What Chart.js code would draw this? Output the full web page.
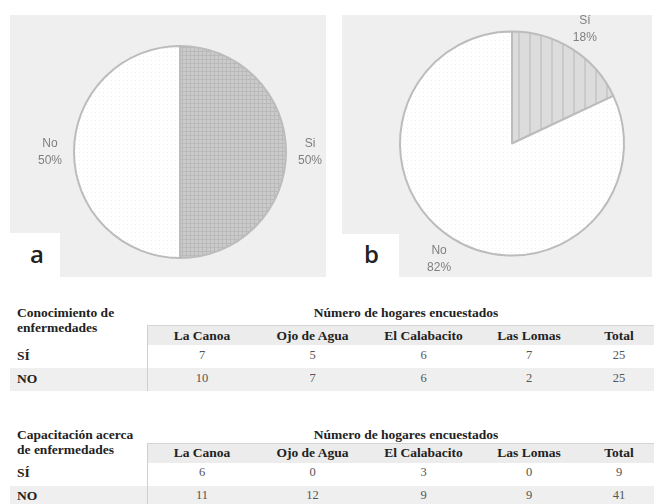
<!DOCTYPE html>
<html>
<head>
<meta charset="utf-8">
<script src="https://cdn.jsdelivr.net/npm/chart.js@4.4.0/dist/chart.umd.min.js"></script>
<style>
  body { margin: 0; width: 654px; height: 504px; overflow: hidden; background: #fff; position: relative; -webkit-font-smoothing: antialiased; }
  .panel { position: absolute; background: #efefef; }
  .tag { position: absolute; background: #fff; font-family: "Open Sans", sans-serif; font-size: 24px; font-weight: 600; color: #222; }
  .t { position: absolute; font-family: "Liberation Serif", serif; white-space: nowrap; line-height: 15px; }
  .b { font-weight: bold; font-size: 13.5px; color: #222; }
  .v { font-size: 12.5px; color: #555; }
  .band { position: absolute; }
</style>
</head>
<body>
<div class="panel" style="left:10px;top:15px;width:316px;height:262px"><canvas id="pieA"></canvas></div>
<div class="panel" style="left:342px;top:15px;width:310px;height:262px"><canvas id="pieB"></canvas></div>
<div class="tag" style="left:10px;top:233px;width:50px;height:44px"><span style="position:absolute;left:20px;top:4px">a</span></div>
<div class="tag" style="left:342px;top:234px;width:57px;height:43px"><span style="position:absolute;left:22px;top:3px">b</span></div>
<div id="tables"></div>
<script>
// pie data
const labelsA = ['Si', 'No'];
const valuesA = [50, 50];
const labelsB = ['Sí', 'No'];
const valuesB = [18, 82];

// table data
const columns = ['La Canoa', 'Ojo de Agua', 'El Calabacito', 'Las Lomas', 'Total'];
const rowNames = ['SÍ', 'NO'];
const conocSi = [7, 5, 6, 7, 25];
const conocNo = [10, 7, 6, 2, 25];
const capSi = [6, 0, 3, 0, 9];
const capNo = [11, 12, 9, 9, 41];

function makePattern(size, draw) {
    const c = document.createElement('canvas');
    c.width = size; c.height = size;
    draw(c.getContext('2d'));
    return document.createElement('canvas').getContext('2d').createPattern(c, 'repeat');
}

const gridFill = makePattern(4, g => {
    g.fillStyle = '#cbcbcb'; g.fillRect(0, 0, 4, 4);
    g.fillStyle = '#b9b9b9'; g.fillRect(0, 0, 4, 1); g.fillRect(0, 0, 1, 4);
});
const dotFill = makePattern(4, g => {
    g.fillStyle = '#ffffff'; g.fillRect(0, 0, 4, 4);
    g.fillStyle = '#eeeeee'; g.fillRect(1, 1, 1, 1);
});
const stripeFill = makePattern(11, g => {
    g.fillStyle = '#dcdcdc'; g.fillRect(0, 0, 11, 11);
    g.fillStyle = '#cacaca'; g.fillRect(0, 0, 2, 11);
});

// draws "Sí / 18%" style labels just outside each slice
const outsideLabels = {
    id: 'outsideLabels',
    afterDatasetsDraw(chart) {
        const ctx = chart.ctx;
        const meta = chart.getDatasetMeta(0);
        const data = chart.data.datasets[0].data;
        const total = data.reduce((a, b) => a + b, 0);
        ctx.save();
        ctx.font = '12px "Liberation Sans", sans-serif';
        ctx.fillStyle = '#7f7f7f';
        ctx.textAlign = 'center';
        ctx.textBaseline = 'middle';
        meta.data.forEach((arc, i) => {
            const p = arc.getProps(['x', 'y', 'startAngle', 'endAngle', 'outerRadius'], true);
            const mid = (p.startAngle + p.endAngle) / 2;
            const d = p.outerRadius + 24;
            const x = p.x + Math.cos(mid) * d;
            const y = p.y + Math.sin(mid) * d;
            ctx.fillText(chart.data.labels[i], x, y - 8);
            ctx.fillText(Math.round(data[i] / total * 100) + '%', x, y + 9);
        });
        ctx.restore();
    }
};

function makePie(id, labels, values, fills, padding) {
    return new Chart(document.getElementById(id), {
        type: 'pie',
        data: {
            labels: labels,
            datasets: [{
                data: values,
                backgroundColor: fills,
                borderColor: '#bcbcbc',
                borderWidth: 2
            }]
        },
        options: {
            responsive: true,
            maintainAspectRatio: false,
            animation: false,
            layout: { padding: padding },
            plugins: {
                legend: { display: false },
                tooltip: { enabled: false }
            }
        },
        plugins: [outsideLabels]
    });
}

makePie('pieA', labelsA, valuesA, [gridFill, dotFill], { left: 63, right: 39, top: 30, bottom: 18 });
makePie('pieB', labelsB, valuesB, [stripeFill, dotFill], { left: 57, right: 27, top: 15, bottom: 20 });

// tables
const colWidths = [110, 111, 111, 100, 80];
const tableLeft = 147;

function addText(parent, cls, text, x, y, center) {
    const el = document.createElement('div');
    el.className = 't ' + cls;
    el.innerHTML = text;
    el.style.left = x + 'px';
    el.style.top = (y - 7.5) + 'px';
    if (center) el.style.transform = 'translateX(-50%)';
    parent.appendChild(el);
}

function addBand(parent, x, y, w, h, css) {
    const el = document.createElement('div');
    el.className = 'band';
    el.style.cssText = `left:${x}px;top:${y}px;width:${w}px;height:${h}px;${css}`;
    parent.appendChild(el);
}

function buildTable(title, rowsData, pos) {
    const root = document.getElementById('tables');
    addBand(root, tableLeft, pos.headerTop, 654 - tableLeft, pos.siTop - pos.headerTop, 'background:#ececec;border-top:1px solid #d4d4d4;');
    addBand(root, 10, pos.noTop, 644, pos.bottom - pos.noTop, 'background:#efefef;');
    addBand(root, tableLeft, pos.headerTop, 1, pos.bottom - pos.headerTop, 'background:#cfcfcf;');
    addText(root, 'b', title, 17, pos.titleY, false);
    const totalW = colWidths.reduce((a, b) => a + b, 0);
    addText(root, 'b', 'Número de hogares encuestados', tableLeft + totalW / 2 + 3, pos.titleY, true);
    let x = tableLeft;
    const centers = colWidths.map(w => { const c = x + w / 2; x += w; return c; });
    columns.forEach((c, i) => addText(root, 'b', c, centers[i], pos.headerY, true));
    const rowYs = [pos.siY, pos.noY];
    rowsData.forEach((row, r) => {
        addText(root, 'b', rowNames[r], 17, rowYs[r], false);
        row.forEach((v, i) => addText(root, 'v', v, centers[i], rowYs[r], true));
    });
}

buildTable('Conocimiento de<br>enfermedades', [conocSi, conocNo],
    { titleY: 312, headerTop: 325, headerY: 335, siTop: 344, siY: 355, noTop: 368, noY: 378, bottom: 391 });
buildTable('Capacitación acerca<br>de enfermedades', [capSi, capNo],
    { titleY: 434, headerTop: 443, headerY: 452, siTop: 462, siY: 472, noTop: 486, noY: 495, bottom: 504 });
</script>
</body>
</html>
